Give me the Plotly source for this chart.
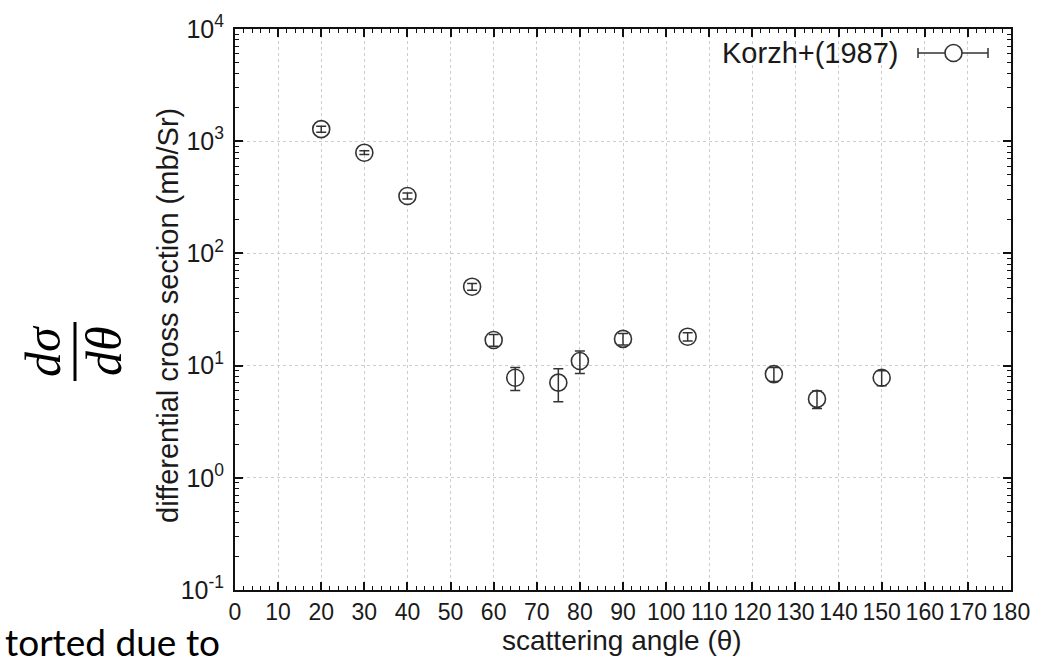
import plotly.graph_objects as go

# ---- data ----
angle_deg = [20, 30, 40, 55, 60, 65, 75, 80, 90, 105, 125, 135, 150]
dsigma = [1280, 790, 325, 50.5, 16.9, 7.8, 7.05, 11.0, 17.3, 18.1, 8.4, 5.05, 7.8]
dsigma_err = [80, 30, 20, 3.5, 2.0, 1.8, 2.3, 2.5, 2.0, 1.5, 1.2, 0.9, 1.2]
series_name = "Korzh+(1987)"
x_ticks = list(range(0, 181, 10))
y_tick_vals = [0.1, 1, 10, 100, 1000, 10000]
y_tick_text = ["10<sup>-1</sup>", "10<sup>0</sup>", "10<sup>1</sup>",
               "10<sup>2</sup>", "10<sup>3</sup>", "10<sup>4</sup>"]

W, H = 1048, 659
L, R, T, B = 235, 1011, 29, 590  # plot area in pixels


def px(x):
    return (x - L) / (R - L)


def py(y):
    return (B - y) / (B - T)


INK = "#333333"
TXT = "#1a1a1a"
FONT = "Liberation Sans, Arial, sans-serif"

fig = go.Figure()
fig.add_trace(go.Scatter(
    x=angle_deg, y=dsigma, mode="markers", name=series_name,
    showlegend=False,
    marker=dict(symbol="circle-open", size=17, color=INK, line=dict(width=1.6, color=INK)),
    error_y=dict(type="data", array=dsigma_err, visible=True, color=INK,
                 thickness=1.5, width=5),
))

axis_common = dict(
    showline=True, linecolor="#111111", linewidth=2, mirror="allticks",
    ticks="inside", tickcolor="#111111", tickwidth=1.5,
    showgrid=True, gridcolor="#cccccc", griddash="dot", gridwidth=1,
    zeroline=False,
)

fig.update_xaxes(
    range=[0, 180], tickmode="array", tickvals=x_ticks,
    ticktext=[str(v) for v in x_ticks], ticklen=8,
    minor=dict(dtick=2, ticks="inside", ticklen=4, tickcolor="#111111", tickwidth=1, showgrid=False),
    ticklabelstandoff=0,
    tickfont=dict(family=FONT, size=23, color=TXT),
    **axis_common,
)
fig.update_yaxes(
    type="log", range=[-1, 4], tickmode="array", tickvals=y_tick_vals,
    ticktext=y_tick_text, ticklen=8,
    minor=dict(dtick="D1", ticks="inside", ticklen=4, tickcolor="#111111", tickwidth=1, showgrid=False),
    ticklabelstandoff=4,
    tickfont=dict(family=FONT, size=25, color=TXT),
    **axis_common,
)

annotations = [
    dict(text="scattering angle (θ)", x=px(622), y=py(640), xref="paper", yref="paper",
         showarrow=False, xanchor="center", yanchor="middle",
         font=dict(family=FONT, size=28, color=TXT)),
    dict(text="differential cross section (mb/Sr)", x=px(168), y=py(316), xref="paper", yref="paper",
         showarrow=False, xanchor="center", yanchor="middle", textangle=-90,
         font=dict(family=FONT, size=29, color=TXT)),
    dict(text=series_name, x=px(901), y=py(53), xref="paper", yref="paper",
         showarrow=False, xanchor="right", yanchor="middle",
         font=dict(family=FONT, size=29, color=TXT)),
    dict(text="dσ", x=px(43), y=py(351), xref="paper", yref="paper",
         showarrow=False, xanchor="center", yanchor="middle", textangle=-90,
         font=dict(family="Liberation Serif, DejaVu Serif, serif", size=50, color="#000000", style="italic")),
    dict(text="dθ", x=px(104), y=py(351), xref="paper", yref="paper",
         showarrow=False, xanchor="center", yanchor="middle", textangle=-90,
         font=dict(family="Liberation Serif, DejaVu Serif, serif", size=50, color="#000000", style="italic")),
    dict(text="torted due to", x=px(222), y=py(641), xref="paper", yref="paper",
         showarrow=False, xanchor="right", yanchor="middle",
         font=dict(family="Lato, Open Sans, sans-serif", size=37, color="#000000")),
]

shapes = [
    # fraction bar
    dict(type="line", xref="paper", yref="paper", x0=px(75), x1=px(75), y0=py(322), y1=py(381),
         line=dict(color="#000000", width=3)),
    # legend sample: line with caps and open circle
    dict(type="line", xref="paper", yref="paper", x0=px(918), x1=px(988), y0=py(53), y1=py(53),
         line=dict(color=INK, width=1.5)),
    dict(type="line", xref="paper", yref="paper", x0=px(918), x1=px(918), y0=py(48), y1=py(58),
         line=dict(color=INK, width=1.5)),
    dict(type="line", xref="paper", yref="paper", x0=px(988), x1=px(988), y0=py(48), y1=py(58),
         line=dict(color=INK, width=1.5)),
    dict(type="circle", xref="paper", yref="paper", x0=px(945), x1=px(962), y0=py(44.5), y1=py(61.5),
         line=dict(color=INK, width=1.6), fillcolor="white"),
]

fig.update_layout(
    width=W, height=H,
    margin=dict(l=L, r=W - R, t=T, b=H - B, pad=0),
    paper_bgcolor="white", plot_bgcolor="white",
    showlegend=False,
    annotations=annotations, shapes=shapes,
)

fig.write_html("out.html")
